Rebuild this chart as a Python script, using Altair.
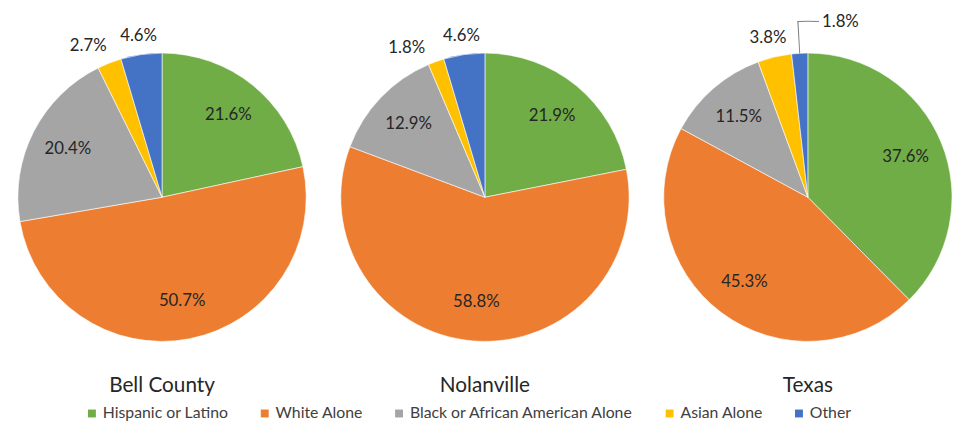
import altair as alt
import pandas as pd

regions = ["Bell County", "Nolanville", "Texas"]
groups = ["Hispanic or Latino", "White Alone", "Black or African American Alone", "Asian Alone", "Other"]
bell_county = [21.6, 50.7, 20.4, 2.7, 4.6]
nolanville = [21.9, 58.8, 12.9, 1.8, 4.6]
texas = [37.6, 45.3, 11.5, 3.8, 1.8]
colors = ["#70AD47", "#ED7D31", "#A5A5A5", "#FFC000", "#4472C4"]

series = {"Bell County": bell_county, "Nolanville": nolanville, "Texas": texas}
rows = []
for r in regions:
    for i, (g, v) in enumerate(zip(groups, series[r])):
        rows.append({"region": r, "group": g, "idx": i, "value": v})
df = pd.DataFrame(rows)

FONT = "Lato"
R = 146
theta_scale = alt.Scale(domain=[0, 100])
color_enc = alt.Color(
    "group:N",
    scale=alt.Scale(domain=groups, range=colors),
    legend=alt.Legend(
        title=None, orient="none", legendX=67, legendY=357,
        direction="horizontal", symbolType="square", padding=0,
        symbolSize=64, symbolStrokeWidth=0, labelFont=FONT, labelFontSize=16,
        labelColor="#404040", labelOffset=3, columnPadding=28, labelLimit=400,
    ),
)


def panel(region, leader_group=None):
    base = (
        alt.Chart(df)
        .transform_filter(alt.datum.region == region)
        .transform_window(cum="sum(value)", sort=[alt.SortField("idx")], frame=[None, 0])
        .transform_calculate(
            start="datum.cum - datum.value",
            mid="datum.cum - datum.value / 2",
            label="format(datum.value, '.1f') + '%'",
        )
    )
    arcs = base.mark_arc(radius=R, stroke="white", strokeWidth=0.6).encode(
        theta=alt.Theta("start:Q", scale=theta_scale, stack=False),
        theta2="cum:Q",
        color=color_enc,
        order=alt.Order("idx:Q"),
    )
    txt = dict(font=FONT, fontSize=17, color="#262626")
    inside = base.transform_filter("datum.value >= 5").mark_text(radius=107, **txt).encode(
        theta=alt.Theta("mid:Q", scale=theta_scale, stack=False),
        text="label:N",
    )
    cond = "datum.value < 5"
    if leader_group:
        cond += f" && datum.group != '{leader_group}'"
    outside = (
        base.transform_filter(cond)
        .transform_calculate(
            lang="datum.mid - max(0, 4 - datum.value)",
            a="datum.lang / 100 * 2 * PI",
            lr=f"{R} + 8 + abs(sin(datum.a)) * 20 + abs(cos(datum.a)) * 8",
        )
        .mark_text(**txt)
        .encode(
            theta=alt.Theta("lang:Q", scale=theta_scale, stack=False),
            radius=alt.Radius("lr:Q", scale=None),
            text="label:N",
        )
    )
    layers = [arcs, inside, outside]
    if leader_group:
        lb = base.transform_filter(f"datum.group == '{leader_group}'").transform_calculate(
            t1="datum.mid - 0.05", t2="datum.mid + 0.05",
            h1="datum.mid - 0.05", h2="datum.mid + 1.9", tl="datum.mid + 2.0",
        )
        radial = lb.mark_arc(radius=R, radius2=178.5, color="#7f7f7f").encode(
            theta=alt.Theta("t1:Q", scale=theta_scale, stack=False), theta2="t2:Q"
        )
        horiz = lb.mark_arc(radius=177.8, radius2=178.8, color="#7f7f7f").encode(
            theta=alt.Theta("h1:Q", scale=theta_scale, stack=False), theta2="h2:Q"
        )
        lbl = lb.mark_text(radius=178, align="left", dx=2, **txt).encode(
            theta=alt.Theta("tl:Q", scale=theta_scale, stack=False),
            text="label:N",
        )
        layers += [radial, horiz, lbl]
    return alt.layer(*layers).properties(
        width=2 * R,
        height=2 * R,
        title=alt.TitleParams(
            region, orient="bottom", offset=33, font=FONT, fontSize=21,
            fontWeight="normal", color="#262626",
        ),
    )


chart = (
    alt.hconcat(
        panel("Bell County"),
        panel("Nolanville"),
        panel("Texas", leader_group="Other"),
        spacing=31,
    )
    .properties(padding={"left": 8, "top": 2, "right": 0, "bottom": 0})
    .configure_view(stroke=None)
    .configure(background="white")
)

chart.save("out.html", embed_options={"renderer": "svg", "actions": False})
